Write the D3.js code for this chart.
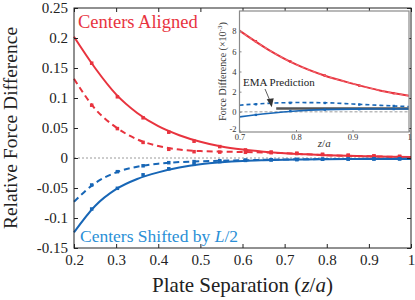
<!DOCTYPE html>
<html>
<head>
<meta charset="utf-8">
<script src="https://cdn.jsdelivr.net/npm/d3@7"></script>
<style>
  body { margin: 0; background: #fff; }
  svg, svg text { font-family: 'Liberation Serif', 'DejaVu Serif', 'Times New Roman', serif; }
</style>
</head>
<body>
<div id="app"></div>
<script>
// main panel: fitted curves (lines) and simulation points (markers)
const xLine = [0.2, 0.25, 0.3, 0.35, 0.4, 0.45, 0.5, 0.55, 0.6, 0.65, 0.7, 0.75, 0.8, 0.85, 0.9, 0.95, 1.0]
const alignedSolid = [0.202, 0.150, 0.106, 0.075, 0.053, 0.038, 0.027, 0.019, 0.014, 0.0105, 0.008, 0.0062, 0.0047, 0.0036, 0.0028, 0.0021, 0.0016]
const alignedDashed = [0.132, 0.082, 0.051, 0.031, 0.020, 0.014, 0.0115, 0.0105, 0.0100, 0.0092, 0.0080, 0.0062, 0.0047, 0.0036, 0.0028, 0.0021, 0.0016]
const shiftedSolid = [-0.124, -0.080, -0.052, -0.035, -0.024, -0.016, -0.0105, -0.0072, -0.005, -0.0038, -0.003, -0.0025, -0.002, -0.0018, -0.0016, -0.0015, -0.0015]
const shiftedDashed = [-0.073, -0.042, -0.024, -0.0145, -0.0095, -0.0068, -0.0055, -0.0045, -0.0038, -0.003, -0.0025, -0.002, -0.0018, -0.0016, -0.0014, -0.0013, -0.0012]

const xMarks = [0.242, 0.303, 0.364, 0.425, 0.485, 0.546, 0.607, 0.668, 0.729, 0.790, 0.851, 0.912, 0.973]
const alignedSolidPts = [0.158, 0.102, 0.067, 0.043, 0.028, 0.019, 0.0135, 0.010, 0.0078, 0.006, 0.0045, 0.0034, 0.0026]
const alignedDashedPts = [0.088, 0.049, 0.026, 0.0145, 0.0105, 0.0098, 0.0095, 0.0088, 0.0075, 0.0058, 0.0044, 0.0033, 0.0025]
const shiftedSolidPts = [-0.085, -0.0505, -0.028, -0.018, -0.0105, -0.006, -0.004, -0.003, -0.0025, -0.002, -0.0018, -0.0016, -0.0015]
const shiftedDashedPts = [-0.045, -0.0228, -0.013, -0.0078, -0.006, -0.0045, -0.0035, -0.003, -0.0025, -0.002, -0.0016, -0.0014, -0.0012]

const xTicks = [0.2, 0.3, 0.4, 0.5, 0.6, 0.7, 0.8, 0.9, 1]
const yTicks = [-0.15, -0.1, -0.05, 0, 0.05, 0.1, 0.15, 0.2, 0.25]

// inset: force difference (x10^-3) for z/a in [0.7, 1]
const insetX = [0.7, 0.75, 0.8, 0.85, 0.9, 0.95, 1.0]
const insetRed = [8.05, 6.2, 4.7, 3.6, 2.8, 2.1, 1.6]
const insetBlueDashed = [0.66, 0.84, 0.92, 0.9, 0.78, 0.64, 0.52]
const insetBlueSolid = [-0.5, -0.17, 0.08, 0.22, 0.27, 0.28, 0.28]
const insetMarkX = [0.729, 0.790, 0.851, 0.912, 0.973]
const insetRedPts = [7.0, 5.0, 3.6, 2.6, 1.85]
const insetBlueDashedPts = [0.75, 0.88, 0.88, 0.72, 0.58]
const insetBlueSolidPts = [-0.3, 0.08, 0.22, 0.27, 0.28]
const emaX = [0.765, 1.0]
const emaY = [0.32, 0.32]
const insetXTicks = [0.7, 0.8, 0.9, 1]
const insetYTicks = [-2, 0, 2, 4, 6, 8]

const RED = '#e8333e'
const BLUE = '#1766b6'
const BLUE_TEXT = '#2a8fd6'
const FONT = "'Liberation Serif', 'DejaVu Serif', 'Times New Roman', serif"

const width = 415, height = 300
const svg = d3.select('#app').append('svg').attr('width', width).attr('height', height)
  .style('display', 'block')

const box = { left: 74, right: 411, top: 8, bottom: 248 }
const x = d3.scaleLinear().domain([0.2, 1]).range([box.left, box.right])
const y = d3.scaleLinear().domain([-0.15, 0.25]).range([box.bottom, box.top])

// zero reference
svg.append('line')
  .attr('x1', box.left).attr('x2', box.right)
  .attr('y1', y(0)).attr('y2', y(0))
  .attr('stroke', '#9a9a9a').attr('stroke-width', 1).attr('stroke-dasharray', '2,2')

const line = d3.line().x((d) => x(d[0])).y((d) => y(d[1])).curve(d3.curveMonotoneX)
const zip = (xs, ys) => xs.map((v, i) => [v, ys[i]])

const series = [
  { line: alignedSolid, pts: alignedSolidPts, color: RED, dash: null },
  { line: alignedDashed, pts: alignedDashedPts, color: RED, dash: '6,4' },
  { line: shiftedSolid, pts: shiftedSolidPts, color: BLUE, dash: null },
  { line: shiftedDashed, pts: shiftedDashedPts, color: BLUE, dash: '6,4' },
]

const plot = svg.append('g')
series.forEach((s) => {
  plot.append('path')
    .attr('d', line(zip(xLine, s.line)))
    .attr('fill', 'none')
    .attr('stroke', s.color)
    .attr('stroke-width', 2)
    .attr('stroke-dasharray', s.dash)
  plot.selectAll(null)
    .data(zip(xMarks, s.pts))
    .join('rect')
    .attr('x', (d) => x(d[0]) - 1.75)
    .attr('y', (d) => y(d[1]) - 1.75)
    .attr('width', 3.5).attr('height', 3.5)
    .attr('fill', s.color)
})

// axes (ticks pointing inward, MATLAB style)
const axisColor = '#222'
const gx = svg.append('g').attr('transform', `translate(0,${box.bottom})`)
  .call(d3.axisBottom(x).tickValues(xTicks).tickSizeInner(-4).tickSizeOuter(0).tickPadding(6).tickFormat((d) => String(d)))
const gy = svg.append('g').attr('transform', `translate(${box.left},0)`)
  .call(d3.axisLeft(y).tickValues(yTicks).tickSizeInner(-4).tickSizeOuter(0).tickPadding(6).tickFormat((d) => String(d)))
const gxTop = svg.append('g').attr('transform', `translate(0,${box.top})`)
  .call(d3.axisTop(x).tickValues(xTicks).tickSizeInner(-4).tickSizeOuter(0).tickFormat(''))
const gyRight = svg.append('g').attr('transform', `translate(${box.right},0)`)
  .call(d3.axisRight(y).tickValues(yTicks).tickSizeInner(-4).tickSizeOuter(0).tickFormat(''))
;[gx, gy, gxTop, gyRight].forEach((g) => {
  g.attr('font-family', FONT)
  g.select('.domain').remove()
  g.selectAll('line').attr('stroke', axisColor)
  g.selectAll('text').attr('fill', '#222').attr('font-size', 15)
})
svg.append('rect')
  .attr('x', box.left).attr('y', box.top)
  .attr('width', box.right - box.left).attr('height', box.bottom - box.top)
  .attr('fill', 'none').attr('stroke', axisColor).attr('stroke-width', 1)

// axis titles
svg.append('text')
  .attr('transform', `translate(17,${(box.top + box.bottom) / 2}) rotate(-90)`)
  .attr('text-anchor', 'middle')
  .attr('font-family', FONT)
  .attr('font-size', 19.5).attr('fill', '#222')
  .text('Relative Force Difference')
const xt = svg.append('text')
  .attr('x', (box.left + box.right) / 2).attr('y', 292)
  .attr('text-anchor', 'middle')
  .attr('font-family', FONT)
  .attr('font-size', 21).attr('fill', '#222')
xt.append('tspan').text('Plate Separation (')
xt.append('tspan').attr('font-style', 'italic').text('z')
xt.append('tspan').text('/')
xt.append('tspan').attr('font-style', 'italic').text('a')
xt.append('tspan').text(')')

// series labels
svg.append('text')
  .attr('x', 78).attr('y', 28)
  .attr('font-family', FONT)
  .attr('font-size', 18.5).attr('fill', RED)
  .text('Centers Aligned')
const sl = svg.append('text')
  .attr('x', 80).attr('y', 242)
  .attr('font-family', FONT)
  .attr('font-size', 17.5).attr('fill', BLUE_TEXT)
sl.append('tspan').text('Centers Shifted by ')
sl.append('tspan').attr('font-style', 'italic').text('L')
sl.append('tspan').text('/2')

// ---- inset ----
const ib = { left: 239.5, right: 409, top: 11, bottom: 132 }
const ix = d3.scaleLinear().domain([0.7, 1]).range([ib.left, ib.right])
const iy = d3.scaleLinear().domain([-2, 10]).range([ib.bottom, ib.top])

const inset = svg.append('g').attr('font-family', FONT)
inset.append('rect')
  .attr('x', ib.left).attr('y', ib.top)
  .attr('width', ib.right - ib.left).attr('height', ib.bottom - ib.top)
  .attr('fill', '#fff')

inset.append('line')
  .attr('x1', ib.left).attr('x2', ib.right)
  .attr('y1', iy(0)).attr('y2', iy(0))
  .attr('stroke', '#9a9a9a').attr('stroke-width', 1).attr('stroke-dasharray', '3,2')

const iline = d3.line().x((d) => ix(d[0])).y((d) => iy(d[1])).curve(d3.curveMonotoneX)

inset.append('path')
  .attr('d', iline(zip(emaX, emaY)))
  .attr('fill', 'none').attr('stroke', '#555').attr('stroke-width', 2.5)

const insetSeries = [
  { vals: insetRed, pts: insetRedPts, color: RED, dash: null, w: 2 },
  { vals: insetRed, pts: null, color: '#f06a72', dash: '3,3', w: 1.2 },
  { vals: insetBlueDashed, pts: insetBlueDashedPts, color: BLUE, dash: '4,3', w: 1.6 },
  { vals: insetBlueSolid, pts: insetBlueSolidPts, color: BLUE, dash: null, w: 1.6 },
]
insetSeries.forEach((s) => {
  inset.append('path')
    .attr('d', iline(zip(insetX, s.vals)))
    .attr('fill', 'none')
    .attr('stroke', s.color)
    .attr('stroke-width', s.w)
    .attr('stroke-dasharray', s.dash)
  if (s.pts) {
    inset.selectAll(null)
      .data(zip(insetMarkX, s.pts))
      .join('rect')
      .attr('x', (d) => ix(d[0]) - 1.2)
      .attr('y', (d) => iy(d[1]) - 1.2)
      .attr('width', 2.4).attr('height', 2.4)
      .attr('fill', s.color)
  }
})

const igx = inset.append('g').attr('transform', `translate(0,${ib.bottom})`)
  .call(d3.axisBottom(ix).tickValues(insetXTicks).tickSizeInner(-2).tickSizeOuter(0).tickPadding(2).tickFormat((d) => String(d)))
const igy = inset.append('g').attr('transform', `translate(${ib.left},0)`)
  .call(d3.axisLeft(iy).tickValues(insetYTicks).tickSizeInner(-2).tickSizeOuter(0).tickPadding(3).tickFormat((d) => String(d)))
;[igx, igy].forEach((g) => {
  g.attr('font-family', FONT)
  g.select('.domain').remove()
  g.selectAll('line').attr('stroke', '#888')
  g.selectAll('text').attr('fill', '#333').attr('font-size', 8.5)
})
// the -2 label sits a bit high, as in the reference
igy.selectAll('.tick').filter((d) => d === -2).select('text').attr('dy', '-0.1em')
inset.append('rect')
  .attr('x', ib.left).attr('y', ib.top)
  .attr('width', ib.right - ib.left).attr('height', ib.bottom - ib.top)
  .attr('fill', 'none').attr('stroke', '#8a8a8a').attr('stroke-width', 1.2)

const iyt = inset.append('text')
  .attr('transform', `translate(226,${(ib.top + ib.bottom) / 2}) rotate(-90)`)
  .attr('text-anchor', 'middle')
  .attr('font-size', 10).attr('fill', '#333')
iyt.append('tspan').text('Force Difference (×10')
iyt.append('tspan').attr('font-size', 7).attr('dy', -4).text('-3')
iyt.append('tspan').attr('dy', 4).text(')')

const ixt = inset.append('text')
  .attr('x', ix(0.85)).attr('y', 147)
  .attr('text-anchor', 'middle')
  .attr('font-size', 11).attr('fill', '#333')
ixt.append('tspan').attr('font-style', 'italic').text('z')
ixt.append('tspan').text('/')
ixt.append('tspan').attr('font-style', 'italic').text('a')

// EMA annotation with arrow
inset.append('text')
  .attr('x', 243).attr('y', 86)
  .attr('font-size', 11).attr('fill', '#222')
  .text('EMA Prediction')
const tip = [ix(0.757), iy(0.45)]
inset.append('line')
  .attr('x1', 265).attr('y1', 89)
  .attr('x2', tip[0] - 1.5).attr('y2', tip[1] - 6)
  .attr('stroke', '#333').attr('stroke-width', 0.8)
inset.append('path')
  .attr('d', `M${tip[0]},${tip[1]} L${tip[0] - 5},${tip[1] - 8} L${tip[0] + 2},${tip[1] - 9} Z`)
  .attr('fill', '#333')
</script>
</body>
</html>
